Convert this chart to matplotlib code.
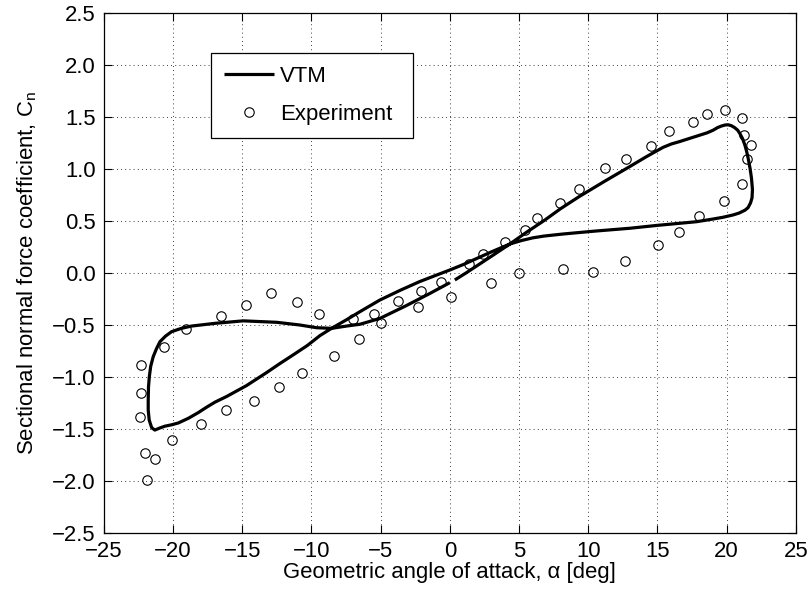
import matplotlib
matplotlib.use("Agg")
import matplotlib.pyplot as plt

plt.rcParams['font.family'] = ['Liberation Sans', 'DejaVu Sans']
plt.rcParams['font.size'] = 15.9

# VTM curve, traced in order (starts just after the small gap near alpha=0)
vtm_alpha = [0.36, 1.2, 2.0, 3.2, 4.34, 5.5, 6.8, 8.0, 9.34, 11.2, 13.0, 14.2, 15.41,
             16.0, 16.62, 17.3, 18.06, 18.6, 19.03, 19.35, 19.63, 19.9, 20.11, 20.35,
             20.59, 20.8, 20.95, 21.15, 21.32, 21.45, 21.56, 21.7, 21.8, 21.87, 21.84,
             21.73, 21.55, 21.32, 20.9, 20.47, 19.75, 19.03, 17.82, 16.62, 15.0, 13.0,
             10.5, 8.19, 6.8, 6.0, 5.2, 4.34, 3.0, 2.0, 1.0, 0.0, -1.1, -2.17, -3.6,
             -5.06, -6.5, -7.5, -8.55, -9.39, -10.3, -11.32, -12.3, -13.24, -14.69,
             -16.13, -16.98, -17.6, -18.18, -18.9, -19.63, -20.1, -20.6, -21.0, -21.32,
             -21.55, -21.73, -21.8, -21.8, -21.78, -21.72, -21.62, -21.44, -21.2,
             -20.95, -20.55, -20.11, -19.4, -18.66, -16.98, -14.93, -12.52, -10.84,
             -9.63, -8.55, -7.46, -6.5, -5.06, -3.2, -1.45, 0.0]
vtm_cn = [-0.07, 0.0, 0.07, 0.175, 0.276, 0.385, 0.50, 0.615, 0.731, 0.88, 1.02,
          1.115, 1.205, 1.237, 1.261, 1.29, 1.322, 1.345, 1.37, 1.395, 1.41, 1.42,
          1.422, 1.413, 1.394, 1.37, 1.34, 1.29, 1.228, 1.165, 1.10, 1.0, 0.908, 0.80,
          0.72, 0.67, 0.625, 0.60, 0.573, 0.555, 0.533, 0.516, 0.49, 0.475, 0.455,
          0.427, 0.40, 0.372, 0.352, 0.335, 0.31, 0.276, 0.2, 0.14, 0.08, 0.026,
          -0.03, -0.085, -0.17, -0.263, -0.375, -0.455, -0.535, -0.605, -0.70, -0.79,
          -0.875, -0.96, -1.085, -1.19, -1.245, -1.295, -1.345, -1.40, -1.445, -1.462,
          -1.476, -1.495, -1.513, -1.49, -1.416, -1.32, -1.224, -1.1, -1.0, -0.9,
          -0.808, -0.73, -0.663, -0.61, -0.567, -0.535, -0.513, -0.487, -0.463,
          -0.477, -0.503, -0.529, -0.535, -0.513, -0.496, -0.44, -0.32, -0.2, -0.096]

# experimental points
exp_alpha = [-22.33, -22.33, -22.38, -22.04, -21.29, -21.92, -20.11, -20.66, -19.08,
             -18.01, -16.55, -16.21, -14.74, -14.18, -12.96, -12.32, -11.03, -10.69,
             -9.44, -8.38, -6.99, -6.6, -5.47, -4.94, -3.75, -2.29, -2.12, -0.65,
             0.05, 1.35, 2.36, 2.94, 3.97, 5.01, 5.44, 6.31, 7.95, 8.19, 9.35, 10.36,
             11.22, 12.64, 12.74, 14.57, 15.05, 15.82, 16.55, 17.56, 17.99, 18.62,
             19.82, 19.92, 21.1, 21.1, 21.27, 21.77, 21.51]
exp_cn = [-0.887, -1.16, -1.385, -1.73, -1.795, -1.996, -1.609, -0.711, -0.545,
          -1.455, -0.413, -1.32, -0.31, -1.234, -0.198, -1.096, -0.285, -0.964,
          -0.394, -0.798, -0.445, -0.64, -0.397, -0.48, -0.272, -0.327, -0.173, -0.087,
          -0.23, 0.08, 0.177, -0.096, 0.292, -0.006, 0.41, 0.529, 0.667, 0.033, 0.808,
          0.01, 1.004, 0.115, 1.093, 1.221, 0.266, 1.36, 0.391, 1.449, 0.545, 1.526,
          0.689, 1.565, 1.488, 0.853, 1.324, 1.225, 1.093]

xticks = [-25, -20, -15, -10, -5, 0, 5, 10, 15, 20, 25]
yticks = [-2.5, -2.0, -1.5, -1.0, -0.5, 0.0, 0.5, 1.0, 1.5, 2.0, 2.5]

fig = plt.figure(figsize=(8.12, 5.91), dpi=100)
ax = fig.add_axes([0.128, 0.0986, 0.852, 0.880])

ax.plot(vtm_alpha, vtm_cn, "k-", lw=2.3, label="VTM", solid_capstyle="butt",
        solid_joinstyle="round")
ax.plot(exp_alpha, exp_cn, "o", ms=6.8, mfc="none", mec="k", mew=0.8,
        label="Experiment")

ax.set_xlim(-25, 25)
ax.set_ylim(-2.5, 2.5)
ax.set_xticks(xticks)
ax.set_yticks(yticks)
ax.set_yticklabels([f"{v:.1f}".replace("-", "\u2212") for v in yticks])
ax.tick_params(direction="in", top=True, right=True, length=6, width=0.8, pad=6)
ax.grid(True, color="k", lw=0.6, linestyle=(0, (1, 4)))
for s in ax.spines.values():
    s.set_linewidth(0.9)

ax.set_xlabel("Geometric angle of attack, \u03b1 [deg]", labelpad=0)
ax.set_ylabel("Sectional normal force coefficient, C$_\\mathregular{n}$", labelpad=9)

leg = ax.legend(loc="upper left", bbox_to_anchor=(0.1546, 0.767, 0.2915, 0.156),
                mode="expand", borderaxespad=0, handlelength=2.3, handletextpad=0.25,
                borderpad=0.58, labelspacing=0.78, fancybox=False, framealpha=1,
                edgecolor="k")
leg.get_frame().set_linewidth(0.9)

fig.savefig("out.png", dpi=100)
